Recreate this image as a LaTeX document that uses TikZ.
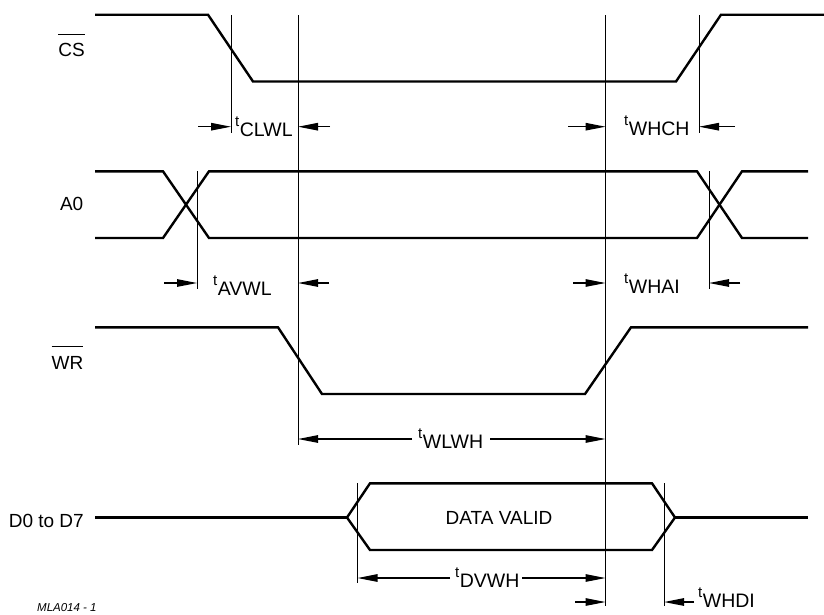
\documentclass[tikz,border=0pt]{standalone}
\usepackage{fontspec}
\setmainfont{Liberation Sans}
\usetikzlibrary{arrows.meta}
\newcommand{\tlab}[1]{\raisebox{10pt}{\fontsize{15}{15}\selectfont t}\kern0.5pt#1}
\newcommand{\ovl}[1]{\setbox0\hbox{#1}\leavevmode\rlap{\raisebox{22pt}{\rule{\wd0}{1pt}}}\box0}
\begin{document}
\begin{tikzpicture}[x=1pt,y=-1pt,
  sig/.style={line width=2.4pt},
  guide/.style={line width=0.8pt},
  dim/.style={line width=1.2pt,-{Triangle[length=20pt,width=7.5pt]}},
  lab/.style={inner sep=0pt,font=\fontsize{19}{21}\selectfont},
  tl/.style={inner sep=0pt,anchor=base west,font=\fontsize{19.5}{21}\selectfont},
]
\useasboundingbox (0,0) rectangle (824,614);

% signal names
\node[lab,anchor=base east] (ncs) at (85,56.7) {\ovl{CS}};
\node[lab,anchor=base east] (na0) at (83.5,210.7) {A0};
\node[lab,anchor=base east] (nwr) at (83.5,369) {\ovl{WR}};
\node[lab,anchor=base east] (nd) at (84,527) {D0 to D7};

% waveforms
\draw[sig] (95,14.7) -- (208,14.7) -- (253,81.5) -- (676,81.5) -- (721,14.7) -- (824,14.7);
\draw[sig] (95,171.3) -- (163,171.3) -- (209,238) -- (697,238) -- (742,171.3) -- (808,171.3);
\draw[sig] (95,238) -- (163,238) -- (209,171.3) -- (697,171.3) -- (742,238) -- (808,238);
\draw[sig] (95,327.3) -- (278,327.3) -- (322,394) -- (585,394) -- (631,327.3) -- (808,327.3);
\draw[sig] (95,517.5) -- (347,517.5);
\draw[sig] (347,517.5) -- (370,483.3) -- (652,483.3) -- (675,517.5) -- (652,550) -- (370,550) -- cycle;
\draw[sig] (675,517.5) -- (808,517.5);
\node[lab,anchor=base] (dv) at (499,524) {DATA VALID};

% guide lines
\coordinate (v1) at (231,15);   \draw[guide] (v1) -- (231,133);
\coordinate (v2) at (298,15);   \draw[guide] (v2) -- (298,445);
\coordinate (v3) at (605.5,15); \draw[guide] (v3) -- (605.5,606);
\coordinate (v4) at (699,15);   \draw[guide] (v4) -- (699,133);
\coordinate (v5) at (197,171);  \draw[guide] (v5) -- (197,289);
\coordinate (v6) at (709,171);  \draw[guide] (v6) -- (709,289);
\coordinate (v7) at (357.5,483);\draw[guide] (v7) -- (357.5,583);
\coordinate (v8) at (664,483);  \draw[guide] (v8) -- (664,606);

% tCLWL
\coordinate (a1s) at (198,126.7); \coordinate (a1e) at (231,126.7);
\coordinate (a2s) at (330,126.7); \coordinate (a2e) at (298,126.7);
\draw[dim] (a1s) -- (a1e); \draw[dim] (a2s) -- (a2e);
\node[tl] (lclwl) at (235,136.7) {\tlab{CLWL}};
% tWHCH
\coordinate (a3s) at (568,126.7); \coordinate (a3e) at (605.5,126.7);
\coordinate (a4s) at (735,126.7); \coordinate (a4e) at (699,126.7);
\draw[dim] (a3s) -- (a3e); \draw[dim] (a4s) -- (a4e);
\node[tl] (lwhch) at (624,135) {\tlab{WHCH}};
% tAVWL
\coordinate (a5s) at (164,283); \coordinate (a5e) at (197,283);
\coordinate (a6s) at (329,283); \coordinate (a6e) at (298,283);
\draw[dim] (a5s) -- (a5e); \draw[dim] (a6s) -- (a6e);
\node[tl] (lavwl) at (213,295) {\tlab{AVWL}};
% tWHAI
\coordinate (a7s) at (573,283); \coordinate (a7e) at (605.5,283);
\coordinate (a8s) at (740,283); \coordinate (a8e) at (709,283);
\draw[dim] (a7s) -- (a7e); \draw[dim] (a8s) -- (a8e);
\node[tl] (lwhai) at (624,293) {\tlab{WHAI}};
% tWLWH
\coordinate (b1s) at (412,439); \coordinate (b1e) at (298,439);
\coordinate (b2s) at (490,439); \coordinate (b2e) at (605.5,439);
\draw[dim] (b1s) -- (b1e); \draw[dim] (b2s) -- (b2e);
\node[tl] (lwlwh) at (418,448) {\tlab{WLWH}};
% tDVWH
\coordinate (b3s) at (450,578); \coordinate (b3e) at (357.5,578);
\coordinate (b4s) at (522,578); \coordinate (b4e) at (605.5,578);
\draw[dim] (b3s) -- (b3e); \draw[dim] (b4s) -- (b4e);
\node[tl] (ldvwh) at (455,587) {\tlab{DVWH}};
% tWHDI
\coordinate (b5s) at (575,602); \coordinate (b5e) at (605.5,602);
\coordinate (b6s) at (694,602); \coordinate (b6e) at (664,602);
\draw[dim] (b5s) -- (b5e); \draw[dim] (b6s) -- (b6e);
\node[tl] (lwhdi) at (698,607) {\tlab{WHDI}};

\node[inner sep=0pt,anchor=base west,font=\fontsize{11.5}{13}\selectfont\itshape] (ref) at (37,611.5) {MLA014 - 1};
\end{tikzpicture}
\end{document}
